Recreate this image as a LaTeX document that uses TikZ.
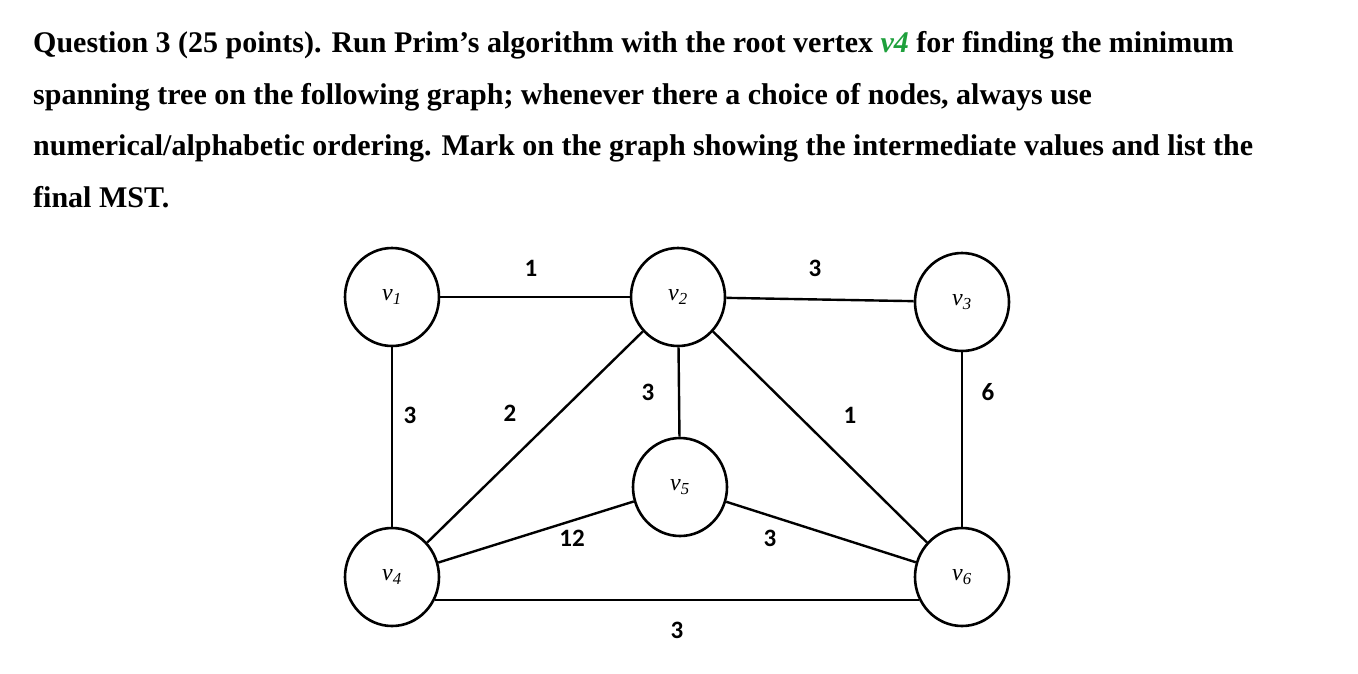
\documentclass[tikz,border=0pt]{standalone}
\usepackage{fontspec}
\usetikzlibrary{shapes.geometric}
\setmainfont{Liberation Serif}
\newfontfamily\lab{Carlito}
\definecolor{vgreen}{RGB}{30,160,60}
\begin{document}
\begin{tikzpicture}[x=1pt,y=-1pt,
  vert/.style={draw,line width=2.6pt,ellipse,minimum width=94pt,minimum height=98pt,inner sep=0pt,font=\fontsize{24}{28}\selectfont\itshape},
  edge/.style={line width=2.4pt},
  wt/.style={font=\lab\fontsize{25}{28}\selectfont\bfseries},
  txt/.style={anchor=base west,inner sep=0pt,font=\fontsize{30}{34}\selectfont\bfseries}]
\useasboundingbox (0,0) rectangle (1358,673);
\node[txt] (l1) at (33,52) {Question 3 (25 points). Run Prim’s algorithm with the root vertex \textcolor{vgreen}{\textit{v4}} for finding the minimum};
\node[txt] (l2) at (33,104) {spanning tree on the following graph; whenever there a choice of nodes, always use};
\node[txt] (l3) at (33,155) {numerical/alphabetic ordering. Mark on the graph showing the intermediate values and list the};
\node[txt] (l4) at (33,207) {final MST.};
\node[vert] (v1) at (392,297) {v\textsubscript{\itshape 1}};
\node[vert] (v2) at (678,297) {v\textsubscript{\itshape 2}};
\node[vert] (v3) at (962,302) {v\textsubscript{\itshape 3}};
\node[vert] (v5) at (680,487) {v\textsubscript{\itshape 5}};
\node[vert] (v4) at (392,577) {v\textsubscript{\itshape 4}};
\node[vert] (v6) at (962,577) {v\textsubscript{\itshape 6}};
\draw[edge] (v1) -- (v2);
\draw[edge] (v2) -- (v3);
\draw[edge] (v1) -- (v4);
\draw[edge] (v2) -- (v4);
\draw[edge] (v2) -- (v5);
\draw[edge] (v2) -- (v6);
\draw[edge] (v3) -- (v6);
\draw[edge] (v4) -- (v5);
\draw[edge] (v5) -- (v6);
\draw[edge] (v4.-28) -- (v6.-152);
\node[wt] (w1) at (531,268) {1};
\node[wt] (w2) at (815,268) {3};
\node[wt] (w3) at (410,415) {3};
\node[wt] (w4) at (510,413) {2};
\node[wt] (w5) at (648,392) {3};
\node[wt] (w6) at (850,415) {1};
\node[wt] (w7) at (988,392) {6};
\node[wt] (w8) at (572,538) {12};
\node[wt] (w9) at (770,538) {3};
\node[wt] (w10) at (677,630) {3};
\end{tikzpicture}
\end{document}
